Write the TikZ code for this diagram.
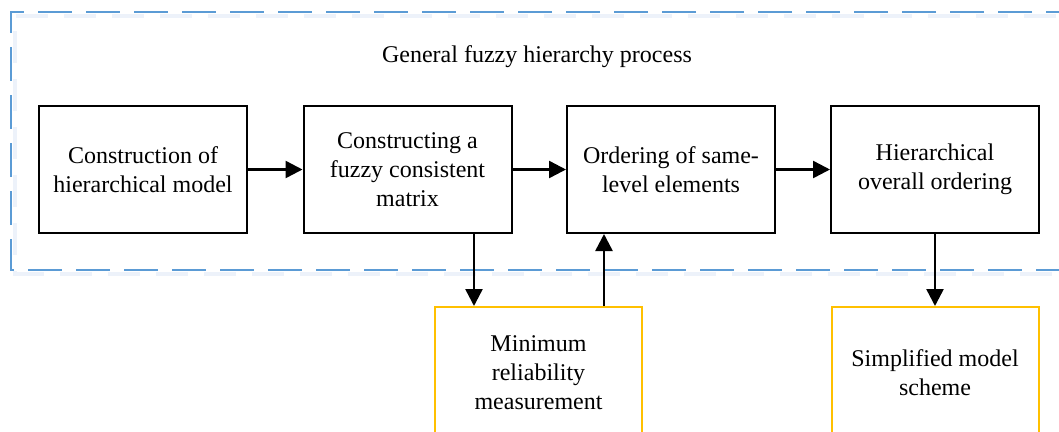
\documentclass[tikz,border=0pt]{standalone}
\usepackage{fontspec}
\setmainfont{Liberation Serif}
\usetikzlibrary{arrows.meta}
\definecolor{dashblue}{HTML}{5B9BD5}
\definecolor{shadowblue}{HTML}{EDF2FA}
\definecolor{boxorange}{HTML}{FFC000}
\begin{document}
\begin{tikzpicture}[x=1bp,y=-1bp,
  every node/.style={font=\fontsize{24bp}{29bp}\selectfont, align=center, text=black},
  procbox/.style={draw=black, line width=2bp, minimum width=208bp, minimum height=127bp, inner sep=0pt},
  sidebox/.style={draw=boxorange, line width=2bp, minimum width=207bp, minimum height=131bp, inner sep=0pt},
  arr/.style={line width=2.5bp, -{Triangle[length=17bp,width=17bp]}},
  groupline/.style={dashblue, line width=2bp, dash pattern=on 34bp off 14bp},
  groupshadow/.style={shadowblue, line width=4bp, dash pattern=on 32bp off 16bp, dash phase=24bp}]
\useasboundingbox (0,0) rectangle (1059,431);
% group frame (shadow then line)
\draw[groupshadow] (1080,16) -- (15,16) -- (15,274) -- (1080,274);
\draw[groupline] (1080,12) -- (11,12) -- (11,270) -- (1080,270);
\node (title) at (537,57) {General fuzzy hierarchy process};
% process boxes
\node[procbox] (b1) at (143,169.5) {Construction of\\hierarchical model};
\node[procbox] (b2) at (407.5,169.5) {Constructing a\\fuzzy consistent\\matrix};
\node[procbox] (b3) at (671,169.5) {Ordering of same-\\level elements};
\node[procbox] (b4) at (935,169.5) {Hierarchical\\overall ordering};
% side boxes
\node[sidebox] (o1) at (538.5,372.5) {Minimum\\reliability\\measurement};
\node[sidebox] (o2) at (935,372.5) {Simplified model\\scheme};
% connectors
\coordinate (cdown) at (474,0);
\coordinate (cup) at (604,0);
\draw[arr] (b1.east) -- (b2.west);
\draw[arr] (b2.east) -- (b3.west);
\draw[arr] (b3.east) -- (b4.west);
\draw[arr] (b2.south -| cdown) -- (o1.north -| cdown);
\draw[arr] (o1.north -| cup) -- (b3.south -| cup);
\draw[arr] (b4.south) -- (o2.north);
\end{tikzpicture}
\end{document}
